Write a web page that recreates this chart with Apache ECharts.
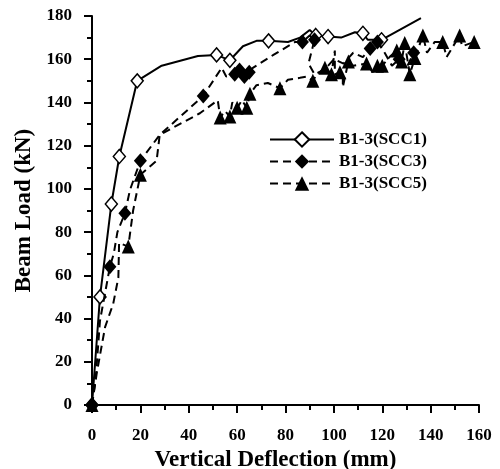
<!DOCTYPE html>
<html><head><meta charset="utf-8">
<script src="https://cdn.jsdelivr.net/npm/echarts@6/dist/echarts.min.js"></script>
<style>html,body{margin:0;padding:0;background:#fff}#c{width:500px;height:469px}</style>
</head><body><div id="c"></div>
<script>
// ---- data (deflection mm, load kN, marker flag) ----
const seriesNames = ['B1-3(SCC1)', 'B1-3(SCC3)', 'B1-3(SCC5)'];

const scc1X = [0, 3.3, 8, 11.3, 18.7, 28.8, 43.8, 51.5, 57, 62.4, 68, 73, 81, 86, 90, 92.5, 97.6, 103, 108.7, 112, 114, 119.7, 136];
const scc1Y = [0, 50, 93, 115, 150, 157, 161.5, 162, 159.5, 166, 168.5, 168.5, 168, 170, 173.5, 171, 170.5, 170, 172.5, 172, 169, 169, 179];
const scc1M = [1, 1, 1, 1, 1, 0, 0, 1, 1, 0, 0, 1, 0, 0, 0, 1, 1, 0, 0, 1, 0, 1, 0];

const scc3X = [0, 1.5, 3.3, 7.4, 9, 10.5, 13.6, 15.7, 20, 28, 46, 53.6, 55.5, 59, 61, 63, 65, 66.5, 75, 84, 87, 90, 92, 89.5, 92, 96, 100, 104, 108, 112, 115, 118, 121, 124, 127, 130, 133];
const scc3Y = [0, 12, 39, 64, 70, 80, 88.7, 99.5, 113, 125, 143, 156, 152, 153, 155, 152, 154, 156, 162, 168, 168, 171, 169, 158, 153, 155, 160, 158, 163, 161, 165, 168, 163, 157, 160, 156, 163];
const scc3M = [1, 0, 0, 1, 0, 0, 1, 0, 1, 0, 1, 0, 0, 1, 1, 1, 1, 0, 0, 0, 1, 0, 1, 0, 0, 0, 0, 0, 0, 0, 1, 1, 0, 0, 1, 0, 1];

const scc5X = [0, 2, 5.4, 8.8, 10.9, 11.2, 15, 17, 20, 26.7, 28, 44.6, 52, 53, 55, 57, 58, 60, 62, 64, 65.3, 68, 72.7, 77.7, 81, 86, 89, 91.3, 93, 96.3, 99, 100.4, 100.4, 102.5, 103.7, 103.7, 106, 108, 113.5, 116, 118, 120, 123, 126, 128, 129.3, 131.4, 133.5, 136.8, 138.5, 141.7, 145, 146.6, 152, 153, 158];
const scc5Y = [0, 15, 36, 47, 59, 75, 73.3, 90, 106.5, 113, 125, 135, 141, 133, 136, 133.5, 140, 137.5, 141, 137.5, 144, 148, 149, 146.6, 150.5, 151.4, 152, 150, 153, 156, 153, 164, 153, 154, 154, 147, 159, 157, 158, 154, 157, 157, 161, 164, 159, 167.5, 153, 160.6, 171, 163, 168, 168, 161, 171, 166, 168];
const scc5M = [1, 0, 0, 0, 0, 0, 1, 0, 1, 0, 0, 0, 0, 1, 0, 1, 0, 1, 0, 1, 1, 0, 0, 1, 0, 0, 0, 1, 0, 1, 1, 0, 0, 1, 0, 0, 1, 0, 1, 0, 1, 1, 0, 1, 1, 1, 1, 1, 1, 0, 0, 1, 0, 1, 0, 1];

const xTicks = [0, 20, 40, 60, 80, 100, 120, 140, 160];
const yTicks = [0, 20, 40, 60, 80, 100, 120, 140, 160, 180];

function pts(xs, ys, ms) {
  return xs.map((x, i) => ms[i] ? [x, ys[i]] : { value: [x, ys[i]], symbol: 'none' });
}

const font = 'Liberation Serif';
const chart = echarts.init(document.getElementById('c'), null, { renderer: 'canvas' });
chart.setOption({
  animation: false,
  backgroundColor: '#fff',
  grid: { left: 92, right: 21, top: 16, bottom: 64, containLabel: false, outerBoundsMode: 'none' },
  legend: {
    orient: 'vertical', left: 264, top: 126,
    itemWidth: 64, itemHeight: 18, itemGap: 5,
    data: seriesNames,
    textStyle: { fontFamily: font, fontWeight: 'bold', fontSize: 17, color: '#000' }
  },
  xAxis: {
    type: 'value', min: xTicks[0], max: xTicks[xTicks.length - 1], interval: 20,
    name: 'Vertical Deflection (mm)', nameLocation: 'middle', nameGap: 36,
    nameTextStyle: { fontFamily: font, fontWeight: 'bold', fontSize: 23, color: '#000', padding: [0, 20, 0, 0] },
    axisLine: { lineStyle: { color: '#000', width: 2 } },
    axisTick: { show: true, inside: false, length: 8, lineStyle: { width: 2, color: '#000' } },
    minorTick: { show: true, splitNumber: 2, length: 5, lineStyle: { width: 2, color: '#000' } },
    axisLabel: { margin: 22, fontFamily: font, fontWeight: 'bold', fontSize: 17, color: '#000' },
    splitLine: { show: false }
  },
  yAxis: {
    type: 'value', min: yTicks[0], max: yTicks[yTicks.length - 1], interval: 20,
    name: 'Beam Load (kN)', nameLocation: 'middle', nameGap: 49, nameRotate: 90,
    nameTextStyle: { fontFamily: font, fontWeight: 'bold', fontSize: 23, color: '#000' },
    axisLine: { show: true, lineStyle: { color: '#000', width: 2 } },
    axisTick: { show: true, inside: false, length: 8, lineStyle: { width: 2, color: '#000' } },
    minorTick: { show: true, splitNumber: 2, length: 5, lineStyle: { width: 2, color: '#000' } },
    axisLabel: { margin: 20, fontFamily: font, fontWeight: 'bold', fontSize: 17, color: '#000' },
    splitLine: { show: false }
  },
  series: [
    {
      name: seriesNames[0], type: 'line', data: pts(scc1X, scc1Y, scc1M),
      symbol: 'diamond', symbolSize: [12, 14], showAllSymbol: true,
      lineStyle: { color: '#000', width: 2, type: 'solid' },
      itemStyle: { color: '#fff', borderColor: '#000', borderWidth: 1.5 },
      z: 2
    },
    {
      name: seriesNames[1], type: 'line', data: pts(scc3X, scc3Y, scc3M),
      symbol: 'diamond', symbolSize: [13, 15], showAllSymbol: true,
      lineStyle: { color: '#000', width: 2, type: [8, 5] },
      itemStyle: { color: '#000', borderColor: '#000', borderWidth: 0 },
      z: 3
    },
    {
      name: seriesNames[2], type: 'line', data: pts(scc5X, scc5Y, scc5M),
      symbol: 'triangle', symbolSize: [13, 14], showAllSymbol: true,
      lineStyle: { color: '#000', width: 2, type: [8, 5] },
      itemStyle: { color: '#000', borderColor: '#000', borderWidth: 0 },
      z: 4
    }
  ]
});
</script></body></html>
